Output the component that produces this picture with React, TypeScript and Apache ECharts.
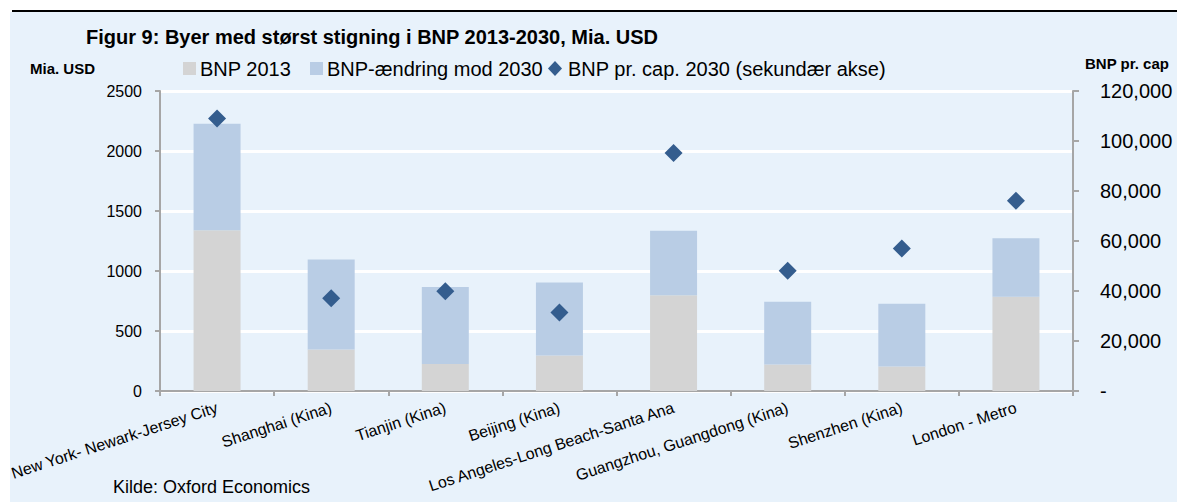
import React, { useEffect, useRef } from "react";
import * as echarts from "echarts";

const categories = [
  "New York- Newark-Jersey City",
  "Shanghai (Kina)",
  "Tianjin (Kina)",
  "Beijing (Kina)",
  "Los Angeles-Long Beach-Santa Ana",
  "Guangzhou, Guangdong (Kina)",
  "Shenzhen (Kina)",
  "London - Metro",
];
const bnp2013 = [1340, 345, 225, 295, 798, 220, 205, 785];
const bnpChange2030 = [888, 750, 641, 610, 537, 524, 523, 487];
const bnpPerCap2030 = [109000, 37100, 39900, 31400, 95200, 48100, 57000, 76100];

const leftTicks = { min: 0, max: 2500, interval: 500 };
const rightTicks = { min: 0, max: 120000, interval: 20000 };

const seriesNames = ["BNP 2013", "BNP-ændring mod 2030", "BNP pr. cap. 2030 (sekundær akse)"];
const titleText = "Figur 9: Byer med størst stigning i BNP 2013-2030, Mia. USD";
const leftAxisName = "Mia. USD";
const rightAxisName = "BNP pr. cap";
const sourceText = "Kilde: Oxford Economics";

const FONT = "'Liberation Sans', Arial, sans-serif";
const GRAY = "#D4D4D4";
const LIGHTBLUE = "#B9CDE5";
const DARKBLUE = "#345D8E";
const BG = "#E8F2FB";
const AXIS = "#A6A6A6";

export default function App() {
  const ref = useRef<HTMLDivElement>(null);
  useEffect(() => {
    if (!ref.current) return;
    const chart = echarts.init(ref.current, null, { renderer: "svg" });
    chart.setOption({
      animation: false,
      backgroundColor: "#ffffff",
      textStyle: { fontFamily: FONT },
      grid: { left: 160, right: 104, top: 91, bottom: 111, containLabel: false },
      graphic: [
        { type: "rect", z: -100, shape: { x: 10, y: 12, width: 1177, height: 502 }, style: { fill: BG } },
        { type: "rect", z: -99, shape: { x: 12, y: 10, width: 1177, height: 2 }, style: { fill: "#000000" } },
        {
          type: "text", x: 86, y: 37,
          style: { text: titleText, font: `bold 20px ${FONT}`, fill: "#000", verticalAlign: "middle" },
        },
        {
          type: "text", x: 30, y: 68,
          style: { text: leftAxisName, font: `bold 15px ${FONT}`, fill: "#000", verticalAlign: "middle" },
        },
        {
          type: "text", x: 1085, y: 63,
          style: { text: rightAxisName, font: `bold 15px ${FONT}`, fill: "#000", verticalAlign: "middle" },
        },
        { type: "rect", shape: { x: 183, y: 62, width: 13, height: 13 }, style: { fill: GRAY } },
        {
          type: "text", x: 200, y: 69,
          style: { text: seriesNames[0], font: `20px ${FONT}`, fill: "#000", verticalAlign: "middle" },
        },
        { type: "rect", shape: { x: 310, y: 62, width: 13, height: 13 }, style: { fill: LIGHTBLUE } },
        {
          type: "text", x: 327, y: 69,
          style: { text: seriesNames[1], font: `20px ${FONT}`, fill: "#000", verticalAlign: "middle" },
        },
        {
          type: "polygon",
          shape: { points: [[555, 61], [562, 68.5], [555, 76], [548, 68.5]] },
          style: { fill: DARKBLUE },
        },
        {
          type: "text", x: 568, y: 69,
          style: { text: seriesNames[2], font: `20px ${FONT}`, fill: "#000", verticalAlign: "middle" },
        },
        {
          type: "text", x: 113, y: 487,
          style: { text: sourceText, font: `18px ${FONT}`, fill: "#000", verticalAlign: "middle" },
        },
      ],
      xAxis: {
        type: "category",
        data: categories,
        axisLine: { show: true, lineStyle: { color: AXIS, width: 2 } },
        axisTick: { show: true, length: 5, lineStyle: { color: AXIS, width: 2 } },
        axisLabel: { interval: 0, rotate: 18, fontSize: 16, color: "#000", margin: 16, fontFamily: FONT },
        splitLine: { show: false },
      },
      yAxis: [
        {
          type: "value",
          min: leftTicks.min, max: leftTicks.max, interval: leftTicks.interval,
          axisLine: { show: true, lineStyle: { color: AXIS, width: 2 } },
          axisTick: { show: true, length: 5, lineStyle: { color: AXIS, width: 2 } },
          axisLabel: {
            fontSize: 16, color: "#000", margin: 18, fontFamily: FONT,
            formatter: (v: number) => String(v),
          },
          splitLine: { show: true, lineStyle: { color: "#ffffff", width: 3 } },
        },
        {
          type: "value",
          min: rightTicks.min, max: rightTicks.max, interval: rightTicks.interval,
          position: "right",
          axisLine: { show: true, lineStyle: { color: AXIS, width: 2 } },
          axisTick: { show: true, length: 6, lineStyle: { color: AXIS, width: 2 } },
          axisLabel: {
            fontSize: 20, color: "#000", margin: 27, fontFamily: FONT,
            formatter: (v: number) => (v === 0 ? "-" : v.toLocaleString("en-US")),
          },
          splitLine: { show: false },
        },
      ],
      series: [
        {
          name: seriesNames[0], type: "bar", stack: "bnp", barWidth: 47,
          itemStyle: { color: GRAY }, data: bnp2013,
        },
        {
          name: seriesNames[1], type: "bar", stack: "bnp", barWidth: 47,
          itemStyle: { color: LIGHTBLUE }, data: bnpChange2030,
        },
        {
          name: seriesNames[2], type: "scatter", yAxisIndex: 1, symbol: "diamond", symbolSize: 18,
          itemStyle: { color: DARKBLUE, opacity: 1 }, data: bnpPerCap2030, z: 5,
        },
      ],
    });
    return () => chart.dispose();
  }, []);
  return (
    <div
      ref={ref}
      style={{ position: "absolute", left: 0, top: 0, width: 1177, height: 502 }}
    />
  );
}
